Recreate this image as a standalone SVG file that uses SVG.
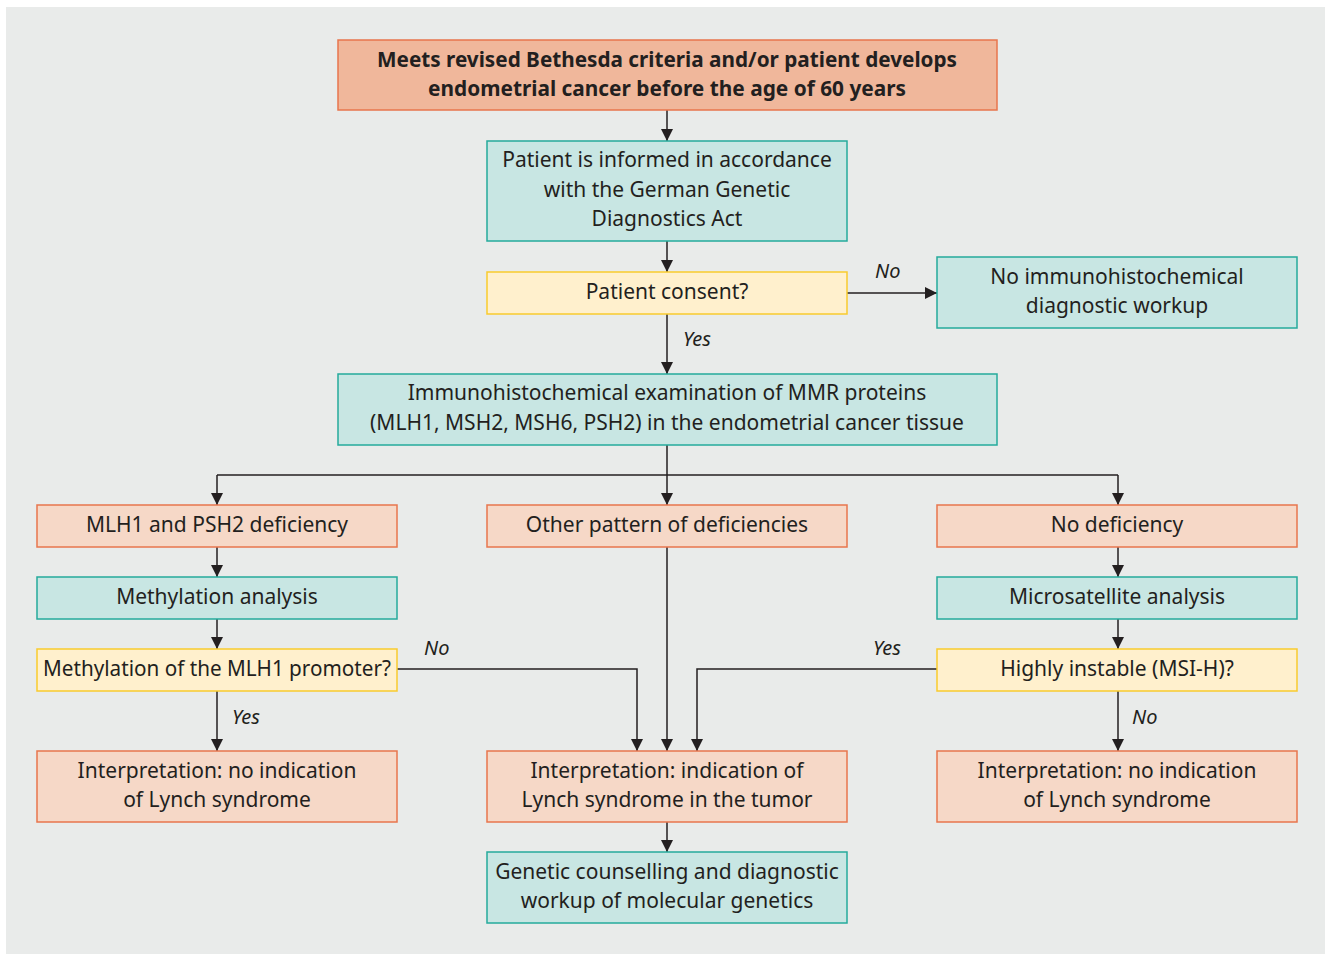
<svg xmlns="http://www.w3.org/2000/svg" width="1325" height="954" viewBox="0 0 1325 954">
<defs>
<marker id="ah" markerWidth="12" markerHeight="12" refX="12" refY="6" orient="auto" markerUnits="userSpaceOnUse">
<path d="M0,0 L12,6 L0,12 Z" fill="#231f20"/>
</marker>
<style>
.t{font-family:"Noto Sans","Open Sans",sans-serif;font-size:21px;fill:#231f20;text-anchor:middle}
.b{font-weight:bold}
.i{font-family:"Noto Sans","Open Sans",sans-serif;font-size:20px;fill:#231f20;font-style:italic}
.sal{fill:#f0b79b;stroke:#e8764d;stroke-width:1.5}
.lsal{fill:#f6d8c7;stroke:#e8764d;stroke-width:1.5}
.teal{fill:#c8e6e3;stroke:#25ab9c;stroke-width:1.5}
.yel{fill:#fff0cd;stroke:#f9cb2e;stroke-width:1.5}
.c{fill:none;stroke:#231f20;stroke-width:1.5}
</style>
</defs>
<rect x="6" y="7" width="1319" height="947" fill="#e9ebea"/>
<g id="connectors">
<line class="c" x1="667" y1="110" x2="667" y2="141" marker-end="url(#ah)"/>
<line class="c" x1="667" y1="241" x2="667" y2="272" marker-end="url(#ah)"/>
<line class="c" x1="847" y1="293" x2="937" y2="293" marker-end="url(#ah)"/>
<line class="c" x1="667" y1="314" x2="667" y2="374" marker-end="url(#ah)"/>
<polyline class="c" points="667,445 667,475"/>
<polyline class="c" points="217,475 1118,475"/>
<line class="c" x1="217" y1="475" x2="217" y2="505" marker-end="url(#ah)"/>
<line class="c" x1="667" y1="475" x2="667" y2="505" marker-end="url(#ah)"/>
<line class="c" x1="1118" y1="475" x2="1118" y2="505" marker-end="url(#ah)"/>
<line class="c" x1="217" y1="547" x2="217" y2="577" marker-end="url(#ah)"/>
<line class="c" x1="1118" y1="547" x2="1118" y2="577" marker-end="url(#ah)"/>
<line class="c" x1="217" y1="619" x2="217" y2="649" marker-end="url(#ah)"/>
<line class="c" x1="1118" y1="619" x2="1118" y2="649" marker-end="url(#ah)"/>
<polyline class="c" points="397,669 637,669 637,751" marker-end="url(#ah)"/>
<line class="c" x1="667" y1="547" x2="667" y2="751" marker-end="url(#ah)"/>
<polyline class="c" points="937,669 697,669 697,751" marker-end="url(#ah)"/>
<line class="c" x1="217" y1="691" x2="217" y2="751" marker-end="url(#ah)"/>
<line class="c" x1="1118" y1="691" x2="1118" y2="751" marker-end="url(#ah)"/>
<line class="c" x1="667" y1="822" x2="667" y2="852" marker-end="url(#ah)"/>
<text class="i" x="875" y="278">No</text>
<text class="i" x="683" y="346">Yes</text>
<text class="i" x="424" y="655">No</text>
<text class="i" x="873" y="655">Yes</text>
<text class="i" x="232" y="724">Yes</text>
<text class="i" x="1132" y="724">No</text>
</g>
<g id="n1"><rect class="sal" x="338" y="40" width="659" height="70"/>
<text class="t b" x="667" y="67" textLength="580" lengthAdjust="spacingAndGlyphs">Meets revised Bethesda criteria and/or patient develops</text>
<text class="t b" x="667" y="96" textLength="478" lengthAdjust="spacingAndGlyphs">endometrial cancer before the age of 60 years</text></g>
<g id="n2"><rect class="teal" x="487" y="141" width="360" height="100"/>
<text class="t" x="667" y="167">Patient is informed in accordance</text>
<text class="t" x="667" y="197">with the German Genetic</text>
<text class="t" x="667" y="226">Diagnostics Act</text></g>
<g id="n3"><rect class="yel" x="487" y="272" width="360" height="42"/>
<text class="t" x="667" y="299">Patient consent?</text></g>
<g id="n4"><rect class="teal" x="937" y="257" width="360" height="71"/>
<text class="t" x="1117" y="284">No immunohistochemical</text>
<text class="t" x="1117" y="313">diagnostic workup</text></g>
<g id="n5"><rect class="teal" x="338" y="374" width="659" height="71"/>
<text class="t" x="667" y="400">Immunohistochemical examination of MMR proteins</text>
<text class="t" x="667" y="430">(MLH1, MSH2, MSH6, PSH2) in the endometrial cancer tissue</text></g>
<g id="n6"><rect class="lsal" x="37" y="505" width="360" height="42"/>
<text class="t" x="217" y="532">MLH1 and PSH2 deficiency</text></g>
<g id="n7"><rect class="lsal" x="487" y="505" width="360" height="42"/>
<text class="t" x="667" y="532">Other pattern of deficiencies</text></g>
<g id="n8"><rect class="lsal" x="937" y="505" width="360" height="42"/>
<text class="t" x="1117" y="532">No deficiency</text></g>
<g id="n9"><rect class="teal" x="37" y="577" width="360" height="42"/>
<text class="t" x="217" y="604">Methylation analysis</text></g>
<g id="n10"><rect class="teal" x="937" y="577" width="360" height="42"/>
<text class="t" x="1117" y="604">Microsatellite analysis</text></g>
<g id="n11"><rect class="yel" x="37" y="649" width="360" height="42"/>
<text class="t" x="217" y="676" textLength="348" lengthAdjust="spacingAndGlyphs">Methylation of the MLH1 promoter?</text></g>
<g id="n12"><rect class="yel" x="937" y="649" width="360" height="42"/>
<text class="t" x="1117" y="676">Highly instable (MSI-H)?</text></g>
<g id="n13"><rect class="lsal" x="37" y="751" width="360" height="71"/>
<text class="t" x="217" y="778">Interpretation: no indication</text>
<text class="t" x="217" y="807">of Lynch syndrome</text></g>
<g id="n14"><rect class="lsal" x="487" y="751" width="360" height="71"/>
<text class="t" x="667" y="778">Interpretation: indication of</text>
<text class="t" x="667" y="807">Lynch syndrome in the tumor</text></g>
<g id="n15"><rect class="lsal" x="937" y="751" width="360" height="71"/>
<text class="t" x="1117" y="778">Interpretation: no indication</text>
<text class="t" x="1117" y="807">of Lynch syndrome</text></g>
<g id="n16"><rect class="teal" x="487" y="852" width="360" height="71"/>
<text class="t" x="667" y="879">Genetic counselling and diagnostic</text>
<text class="t" x="667" y="908">workup of molecular genetics</text></g>
</svg>
